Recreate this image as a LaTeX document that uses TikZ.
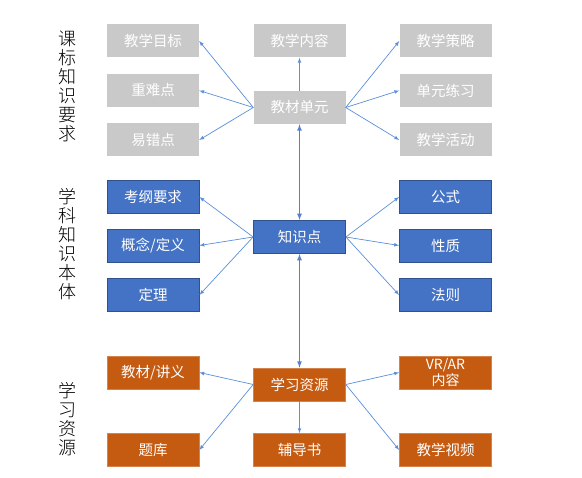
\documentclass[tikz,border=0pt]{standalone}
\usepackage{fontspec}
\newfontfamily\cjk{Noto Sans CJK SC}
\newfontfamily\cjklight{Noto Sans CJK SC Light}
\usepackage{tikz}
\usetikzlibrary{arrows}

\definecolor{boxgray}{HTML}{C9C9C9}
\definecolor{boxblue}{HTML}{4472C4}
\definecolor{lineblue}{HTML}{2F528F}
\definecolor{boxorange}{HTML}{C55A11}
\definecolor{arrowblue}{HTML}{5B8FD9}

\begin{document}
\begin{tikzpicture}[x=1pt,y=-1pt]
\tikzstyle{every node}+=[font=\cjk\fontsize{14.5}{15}\selectfont]
\tikzstyle{box}=[minimum width=92pt,minimum height=33pt,inner sep=0pt,text=white]
\tikzstyle{graybox}=[box,fill=boxgray]
\tikzstyle{bluebox}=[box,fill=boxblue,draw=lineblue,line width=0.8pt]
\tikzstyle{orangebox}=[box,fill=boxorange,draw=boxorange!75!white,line width=0.6pt]
\tikzstyle{side}=[align=center,font=\cjklight\fontsize{18}{19}\selectfont]
\tikzstyle{link}=[draw=arrowblue,line width=0.7pt,-latex]
\tikzstyle{spine}=[draw=boxblue!90!white,line width=1.2pt,latex-latex]
\useasboundingbox (0,0) rectangle (582,478);
% side labels
\node[side] (lab1) at (67,86.5) {课\\标\\知\\识\\要\\求};
\node[side] (lab2) at (67,244) {学\\科\\知\\识\\本\\体};
\node[side] (lab3) at (67,419) {学\\习\\资\\源};
% grey part
\node[graybox] (goal) at (153,41) {教学目标};
\node[graybox] (key) at (153,90.5) {重难点};
\node[graybox] (err) at (153,140) {易错点};
\node[graybox] (content) at (299.5,41) {教学内容};
\node[graybox] (unit) at (299.5,107.5) {教材单元};
\node[graybox] (strat) at (445.5,41) {教学策略};
\node[graybox] (exer) at (445.5,90.5) {单元练习};
\node[graybox] (act) at (445.5,140) {教学活动};
% blue part
\node[bluebox] (req) at (153,197) {考纲要求};
\node[bluebox] (concept) at (153,245.5) {概念/定义};
\node[bluebox] (thm) at (153,295) {定理};
\node[bluebox] (kp) at (299.5,237) {知识点};
\node[bluebox] (formula) at (445.5,197) {公式};
\node[bluebox] (prop) at (445.5,245.5) {性质};
\node[bluebox] (rule) at (445.5,295) {法则};
% orange part
\node[orangebox] (book) at (153,372.5) {教材/讲义};
\node[orangebox] (bank) at (153,450) {题库};
\node[orangebox] (res) at (299.5,384.5) {学习资源};
\node[orangebox] (guide) at (299.5,450) {辅导书};
\node[orangebox,align=center,font=\cjk\fontsize{14}{13.5}\selectfont] (vrar) at (445.5,372.5) {VR/AR\\内容};
\node[orangebox] (video) at (445.5,450) {教学视频};
% arrows
\draw[link] (unit.west) -- (goal.east);
\draw[link] (unit.west) -- (key.east);
\draw[link] (unit.west) -- (err.east);
\draw[link] (unit.north) -- (content.south);
\draw[link] (unit.east) -- (strat.west);
\draw[link] (unit.east) -- (exer.west);
\draw[link] (unit.east) -- (act.west);
\draw[link] (kp.west) -- (req.east);
\draw[link] (kp.west) -- (concept.east);
\draw[link] (kp.west) -- (thm.east);
\draw[link] (kp.east) -- (formula.west);
\draw[link] (kp.east) -- (prop.west);
\draw[link] (kp.east) -- (rule.west);
\draw[link] (res.west) -- (book.east);
\draw[link] (res.west) -- (bank.east);
\draw[link] (res.south) -- (guide.north);
\draw[link] (res.east) -- (vrar.west);
\draw[link] (res.east) -- (video.west);
\draw[spine] (unit.south) -- (kp.north);
\draw[spine] (kp.south) -- (res.north);
\end{tikzpicture}
\end{document}
